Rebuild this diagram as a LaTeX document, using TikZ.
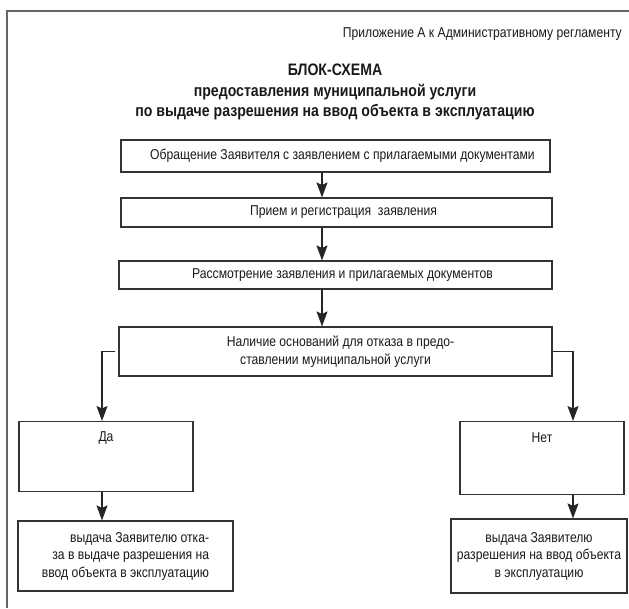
\documentclass[tikz,border=0pt]{standalone}
\usepackage{fontspec}
\setmainfont{Liberation Sans}[FakeStretch=0.85]
\usetikzlibrary{arrows.meta,positioning}

\begin{document}
\begin{tikzpicture}[
            x=1pt, y=-1pt,
            every node/.style = {font=\fontsize{14.3}{17.5}\selectfont, inner sep=0pt, text=black!90},
            stepbox/.style = {draw=black!80, line width=1.1pt, align=center},
            topbox/.style = {stepbox, inner ysep=0pt},
            arr/.style = {draw=black!85, line width=1.1pt, -{Stealth[length=15pt, width=11pt, inset=2.5pt]}}
        ]
        \useasboundingbox (0,0) rectangle (629,608);
        \draw[black!60, line width=1.3pt] (7,608) |- (629,11);

        \node[anchor=base east] (annex) at (622,37) {Приложение А к Административному регламенту};
        \node[anchor=north, align=center, font=\bfseries\fontsize{16.6}{20.5}\selectfont] (title) at (335,64)
            {БЛОК-СХЕМА \\ предоставления муниципальной услуги \\ по выдаче разрешения на ввод объекта в эксплуатацию};

        \node[stepbox, minimum width=429pt, minimum height=32pt] (appeal) at (335.5,156) {\hspace*{14pt}Обращение Заявителя с заявлением с прилагаемыми документами};
        \node[stepbox, minimum width=431pt, minimum height=29pt] (reception) at (336.5,212.5) {\hspace*{14pt}Прием и регистрация~~заявления};
        \node[stepbox, minimum width=433pt, minimum height=28pt] (review) at (335.5,275) {\hspace*{14pt}Рассмотрение заявления и прилагаемых документов};
        \node[stepbox, minimum width=433pt, minimum height=49pt] (check) at (335.5,351.5) {\hspace*{10pt}Наличие оснований для отказа в предо- \\ ставлении муниципальной услуги};

        \node[topbox, minimum width=174pt, text height=20pt, text depth=50pt] (yes) at (106,421) [anchor=north] {Да};
        \node[topbox, minimum width=164pt, text height=21pt, text depth=52pt] (no) at (542,421) [anchor=north] {Нет};

        \node[stepbox, align=right, minimum width=215pt, minimum height=70pt] (refusal) at (125.5,556) {выдача Заявителю отка- \\ за в выдаче разрешения на \\ ввод объекта в эксплуатацию};
        \node[stepbox, minimum width=176pt, minimum height=74pt] (permit) at (539,556) {выдача Заявителю \\ разрешения на ввод объекта \\ в эксплуатацию};

        \coordinate (axis) at (322,0);
        \coordinate (yesaxis) at (102,0);
        \coordinate (noaxis) at (573,0);

        \draw[arr] (appeal.south -| axis) -- (reception.north -| axis);
        \draw[arr] (reception.south -| axis) -- (review.north -| axis);
        \draw[arr] (review.south -| axis) -- (check.north -| axis);
        \draw[arr] ([xshift=-3pt]check.west) -| (yes.north -| yesaxis);
        \draw[arr] (check.east) -| (no.north -| noaxis);
        \draw[arr] (yes.south -| yesaxis) -- (refusal.north -| yesaxis);
        \draw[arr] (no.south -| noaxis) -- (permit.north -| noaxis);
    \end{tikzpicture}
\end{document}
